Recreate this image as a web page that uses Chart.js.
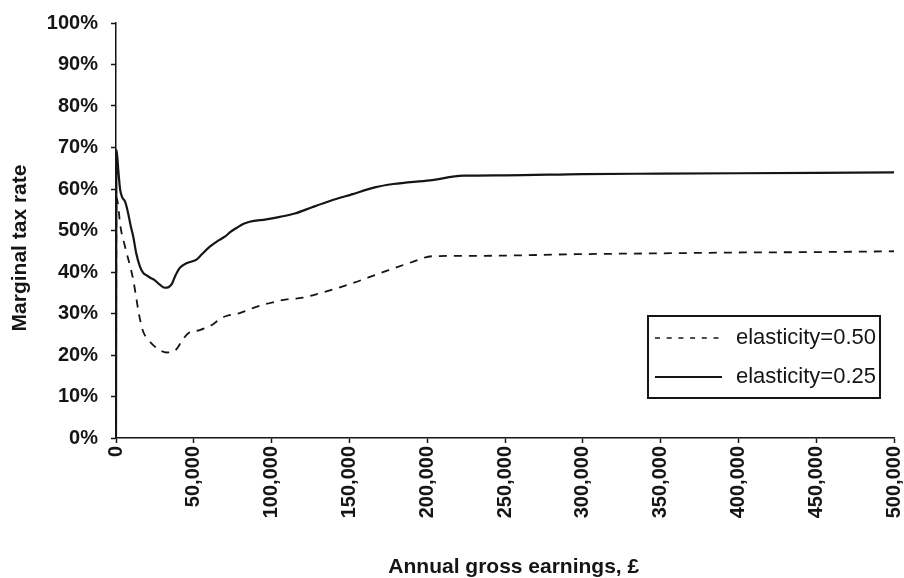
<!DOCTYPE html>
<html>
<head>
<meta charset="utf-8">
<script src="https://cdn.jsdelivr.net/npm/chart.js@4/dist/chart.umd.min.js"></script>
<style>
  html, body { margin: 0; padding: 0; background: #fff; }
  #wrap { width: 904px; height: 578px; }
</style>
</head>
<body>
<div id="wrap"><canvas id="c" width="904" height="578"></canvas></div>
<script>
// ---- Data ----
const seriesLabels = ['elasticity=0.50', 'elasticity=0.25'];

const earnings050 = [0, 300, 1500, 2500, 3650, 5200, 6900, 9000, 11100, 12700, 14300, 15900, 17500, 20500, 23900, 28000, 32500, 36000, 38900, 42000, 46300, 53800, 58000, 62400, 66500, 70900, 79500, 90200, 100800, 109700, 120000, 131100, 150400, 169700, 191100, 202900, 233900, 298200, 350000, 400000, 450000, 500000];
const rate050 = [0, 58, 55.7, 52, 49.3, 47, 44.5, 41.5, 38.1, 34.5, 30.8, 27.8, 25.6, 23.8, 22.4, 21.2, 20.6, 20.7, 21.4, 23.2, 25.2, 26, 26.6, 27.4, 28.6, 29.4, 30.1, 31.6, 32.7, 33.4, 33.8, 34.9, 37.1, 39.7, 42.5, 43.8, 43.9, 44.3, 44.5, 44.7, 44.8, 45.0];

const earnings025 = [0, 300, 1500, 2600, 4000, 5800, 7900, 9500, 11100, 13000, 15400, 17500, 19700, 22000, 25000, 28000, 31400, 33500, 35700, 38000, 41000, 45300, 51700, 55000, 60300, 65000, 69900, 74000, 77400, 82000, 85900, 96600, 105400, 115000, 126000, 137500, 151500, 166400, 178200, 201800, 223200, 250000, 300000, 350000, 400000, 450000, 500000];
const rate025 = [0, 69.5, 64.5, 60, 58, 57, 54, 51, 48.5, 44.5, 41.3, 39.8, 39.2, 38.6, 38, 37, 36.2, 36.3, 37, 39, 41, 42.1, 43, 44.2, 46.1, 47.4, 48.5, 49.8, 50.6, 51.6, 52.1, 52.7, 53.3, 54.1, 55.6, 57.1, 58.7, 60.4, 61.2, 62.1, 63.2, 63.3, 63.6, 63.7, 63.8, 63.9, 64.0];

const xTickValues = [0, 50000, 100000, 150000, 200000, 250000, 300000, 350000, 400000, 450000, 500000];
const yTickValues = [0, 10, 20, 30, 40, 50, 60, 70, 80, 90, 100];

const xTitle = 'Annual gross earnings, \u00a3';
const yTitle = 'Marginal tax rate';

// ---- Build chart ----
const toPoints = (xs, ys) => xs.map((x, i) => ({ x: x, y: ys[i] }));
const INK = '#151515';

const boxLegend = {
  id: 'boxLegend',
  afterDraw(chart) {
    const ctx = chart.ctx;
    const a = chart.chartArea;
    const left = a.right - 246, top = a.bottom - 122, w = 232, h = 82;
    ctx.save();
    ctx.fillStyle = '#fff';
    ctx.fillRect(left, top, w, h);
    ctx.strokeStyle = INK;
    ctx.lineWidth = 2;
    ctx.strokeRect(left, top, w, h);
    const rows = [top + 22, top + 61];
    chart.data.datasets.forEach((ds, i) => {
      const y = rows[i];
      ctx.beginPath();
      ctx.setLineDash(ds.borderDash ? [5, 6.7] : []);
      ctx.lineWidth = ds.borderDash ? 1.6 : 2.2;
      ctx.strokeStyle = ds.borderColor;
      ctx.moveTo(left + 7, y);
      ctx.lineTo(left + 74, y);
      ctx.stroke();
      ctx.setLineDash([]);
      ctx.fillStyle = INK;
      ctx.font = '22px "Liberation Sans", Arial, sans-serif';
      ctx.textBaseline = 'middle';
      ctx.textAlign = 'left';
      ctx.fillText(ds.label, left + 88, y);
    });
    ctx.restore();
  }
};

const tickFont = { family: '"Liberation Sans", Arial, sans-serif', size: 20, weight: 'bold' };
const titleFont = { family: '"Liberation Sans", Arial, sans-serif', size: 21, weight: 'bold', lineHeight: 1 };

new Chart(document.getElementById('c'), {
  type: 'line',
  data: {
    datasets: [
      {
        label: seriesLabels[0],
        data: toPoints(earnings050, rate050),
        borderColor: INK,
        borderWidth: 1.8,
        borderDash: [8, 7],
        pointRadius: 0,
        fill: false,
        cubicInterpolationMode: 'monotone'
      },
      {
        label: seriesLabels[1],
        data: toPoints(earnings025, rate025),
        borderColor: INK,
        borderWidth: 2.2,
        pointRadius: 0,
        fill: false,
        cubicInterpolationMode: 'monotone'
      }
    ]
  },
  options: {
    responsive: false,
    animation: false,
    layout: { padding: { left: 0, right: 10, top: 23, bottom: 0 } },
    plugins: { legend: { display: false }, tooltip: { enabled: false } },
    scales: {
      x: {
        type: 'linear',
        min: 0, max: 500000,
        afterBuildTicks: s => { s.ticks = xTickValues.map(v => ({ value: v })); },
        afterFit: s => { s.height = 140; s.paddingLeft = 0; s.paddingRight = 0; },
        border: { display: true, color: INK, width: 1.5 },
        grid: { display: true, drawOnChartArea: false, drawTicks: true, tickLength: 5, tickColor: INK, tickWidth: 1.5 },
        ticks: {
          color: INK, font: tickFont, padding: 3,
          minRotation: 90, maxRotation: 90, autoSkip: false,
          callback: v => v.toLocaleString('en-GB')
        },
        title: { display: true, text: '   ' + xTitle, color: INK, font: titleFont, padding: { top: 0, bottom: 0 } }
      },
      y: {
        type: 'linear',
        min: 0, max: 100,
        afterBuildTicks: s => { s.ticks = yTickValues.map(v => ({ value: v })); },
        afterFit: s => { s.width = 116; s.paddingTop = 0; s.paddingBottom = 0; },
        border: { display: true, color: INK, width: 1.5 },
        grid: { display: true, drawOnChartArea: false, drawTicks: true, tickLength: 5, tickColor: INK, tickWidth: 1.5 },
        ticks: { color: INK, font: tickFont, padding: 13, autoSkip: false, callback: v => v + '%' },
        title: { display: true, text: yTitle + '      ', color: INK, font: titleFont, padding: { top: 9.5, bottom: 0 } }
      }
    }
  },
  plugins: [boxLegend]
});
</script>
</body>
</html>
